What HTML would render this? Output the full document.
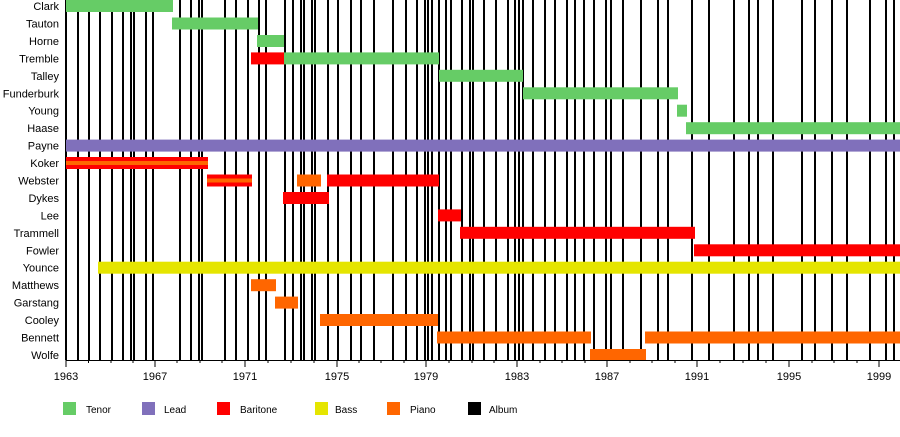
<!DOCTYPE html>
<html><head><meta charset="utf-8"><style>body{margin:0;background:#fff}svg{display:block}text{font-family:"Liberation Sans",sans-serif;font-size:11px;fill:#000}</style></head><body>
<svg width="900" height="437" xmlns="http://www.w3.org/2000/svg">
<g stroke="#000" stroke-width="2">
<path d="M66 0V360M78 0V360M89 0V360M100 0V360M112 0V360M123 0V360M131 0V360M134 0V360M146 0V360M153 0V360M180 0V360M191 0V360M199 0V360M202 0V360M225 0V360M236 0V360M248 0V360M259 0V360M266 0V360M285 0V360M293 0V360M301 0V360M304 0V360M312 0V360M315 0V360M328 0V360M338 0V360M351 0V360M361 0V360M374 0V360M393 0V360M406 0V360M417 0V360M425 0V360M428 0V360M432 0V360M439 0V360M446 0V360M451 0V360M462 0V360M470 0V360M473 0V360M484 0V360M496 0V360M508 0V360M515 0V360M519 0V360M523 0V360M533 0V360M545 0V360M555 0V360M567 0V360M575 0V360M584 0V360M594 0V360M606 0V360M611 0V360M623 0V360M641 0V360M658 0V360M668 0V360M692 0V360M709 0V360M734 0V360M749 0V360M758 0V360M773 0V360M802 0V360M815 0V360M832 0V360M847 0V360M870 0V360M886 0V360M894 0V360"/>
</g>
<g fill="#66cc66">
<rect x="66" y="0" width="107" height="12"/>
<rect x="172" y="17.5" width="86" height="12"/>
<rect x="257" y="35" width="27" height="12"/>
<rect x="284" y="52.4" width="155" height="12"/>
<rect x="439" y="69.8" width="84" height="12"/>
<rect x="523" y="87.3" width="155" height="12"/>
<rect x="677" y="104.7" width="10" height="12"/>
<rect x="686" y="122.2" width="214" height="12"/>
</g>
<rect x="66" y="139.6" width="834" height="12" fill="#8070bb"/>
<g fill="#ff0000">
<rect x="251" y="52.4" width="33" height="12"/>
<rect x="66" y="157" width="142" height="12"/>
<rect x="207" y="174.5" width="45" height="12"/>
<rect x="327" y="174.5" width="112" height="12"/>
<rect x="283" y="192" width="46" height="12"/>
<rect x="438" y="209.4" width="23" height="12"/>
<rect x="460" y="226.8" width="235" height="12"/>
<rect x="694" y="244.3" width="206" height="12"/>
</g>
<rect x="66" y="161" width="142" height="4" fill="#ff6600"/>
<rect x="207" y="178.5" width="45" height="4" fill="#ff6600"/>
<rect x="98" y="261.7" width="802" height="12" fill="#e5e500"/>
<g fill="#ff6600">
<rect x="297" y="174.5" width="24" height="12"/>
<rect x="251" y="279.2" width="25" height="12"/>
<rect x="275" y="296.6" width="23" height="12"/>
<rect x="320" y="314" width="118" height="12"/>
<rect x="437" y="331.5" width="154" height="12"/>
<rect x="645" y="331.5" width="255" height="12"/>
<rect x="590" y="349" width="56" height="12"/>
</g>
<path d="M66 360.5H900" stroke="#000" stroke-width="1"/>
<g stroke="#000" stroke-width="1">
<path d="M66 360V367M155 360V367M245 360V367M337 360V367M426 360V367M517 360V367M607 360V367M697 360V367M789 360V367M879 360V367"/>
<path d="M88.5 360V363M111 360V363M133 360V363M177 360V363M200 360V363M222 360V363M268 360V363M291 360V363M314 360V363M359 360V363M381 360V363M404 360V363M449 360V363M472 360V363M494 360V363M540 360V363M562 360V363M585 360V363M630 360V363M652 360V363M675 360V363M720 360V363M743 360V363M766 360V363M812 360V363M834 360V363M857 360V363"/>
</g>
<g text-anchor="end">
<text x="59" y="10">Clark</text><text x="59" y="27.5">Tauton</text><text x="59" y="45">Horne</text><text x="59" y="62.4">Tremble</text><text x="59" y="79.8">Talley</text><text x="59" y="97.3">Funderburk</text><text x="59" y="114.7">Young</text><text x="59" y="132.2">Haase</text><text x="59" y="149.6">Payne</text><text x="59" y="167">Koker</text><text x="59" y="184.5">Webster</text><text x="59" y="202">Dykes</text><text x="59" y="219.4">Lee</text><text x="59" y="236.8">Trammell</text><text x="59" y="254.3">Fowler</text><text x="59" y="271.7">Younce</text><text x="59" y="289.2">Matthews</text><text x="59" y="306.6">Garstang</text><text x="59" y="324">Cooley</text><text x="59" y="341.5">Bennett</text><text x="59" y="359">Wolfe</text>
</g>
<g text-anchor="middle">
<text x="66" y="380">1963</text><text x="155" y="380">1967</text><text x="245" y="380">1971</text><text x="337" y="380">1975</text><text x="426" y="380">1979</text><text x="517" y="380">1983</text><text x="607" y="380">1987</text><text x="697" y="380">1991</text><text x="789" y="380">1995</text><text x="879" y="380">1999</text>
</g>
<rect x="63" y="402" width="13" height="13" fill="#66cc66"/><text x="86" y="413" style="font-size:10px">Tenor</text>
<rect x="142" y="402" width="13" height="13" fill="#8070bb"/><text x="164" y="413" style="font-size:10px">Lead</text>
<rect x="217" y="402" width="13" height="13" fill="#ff0000"/><text x="240" y="413" style="font-size:10px">Baritone</text>
<rect x="315" y="402" width="13" height="13" fill="#e5e500"/><text x="335" y="413" style="font-size:10px">Bass</text>
<rect x="387" y="402" width="13" height="13" fill="#ff6600"/><text x="410" y="413" style="font-size:10px">Piano</text>
<rect x="468" y="402" width="13" height="13" fill="#000"/><text x="489" y="413" style="font-size:10px">Album</text>
</svg>
</body></html>
